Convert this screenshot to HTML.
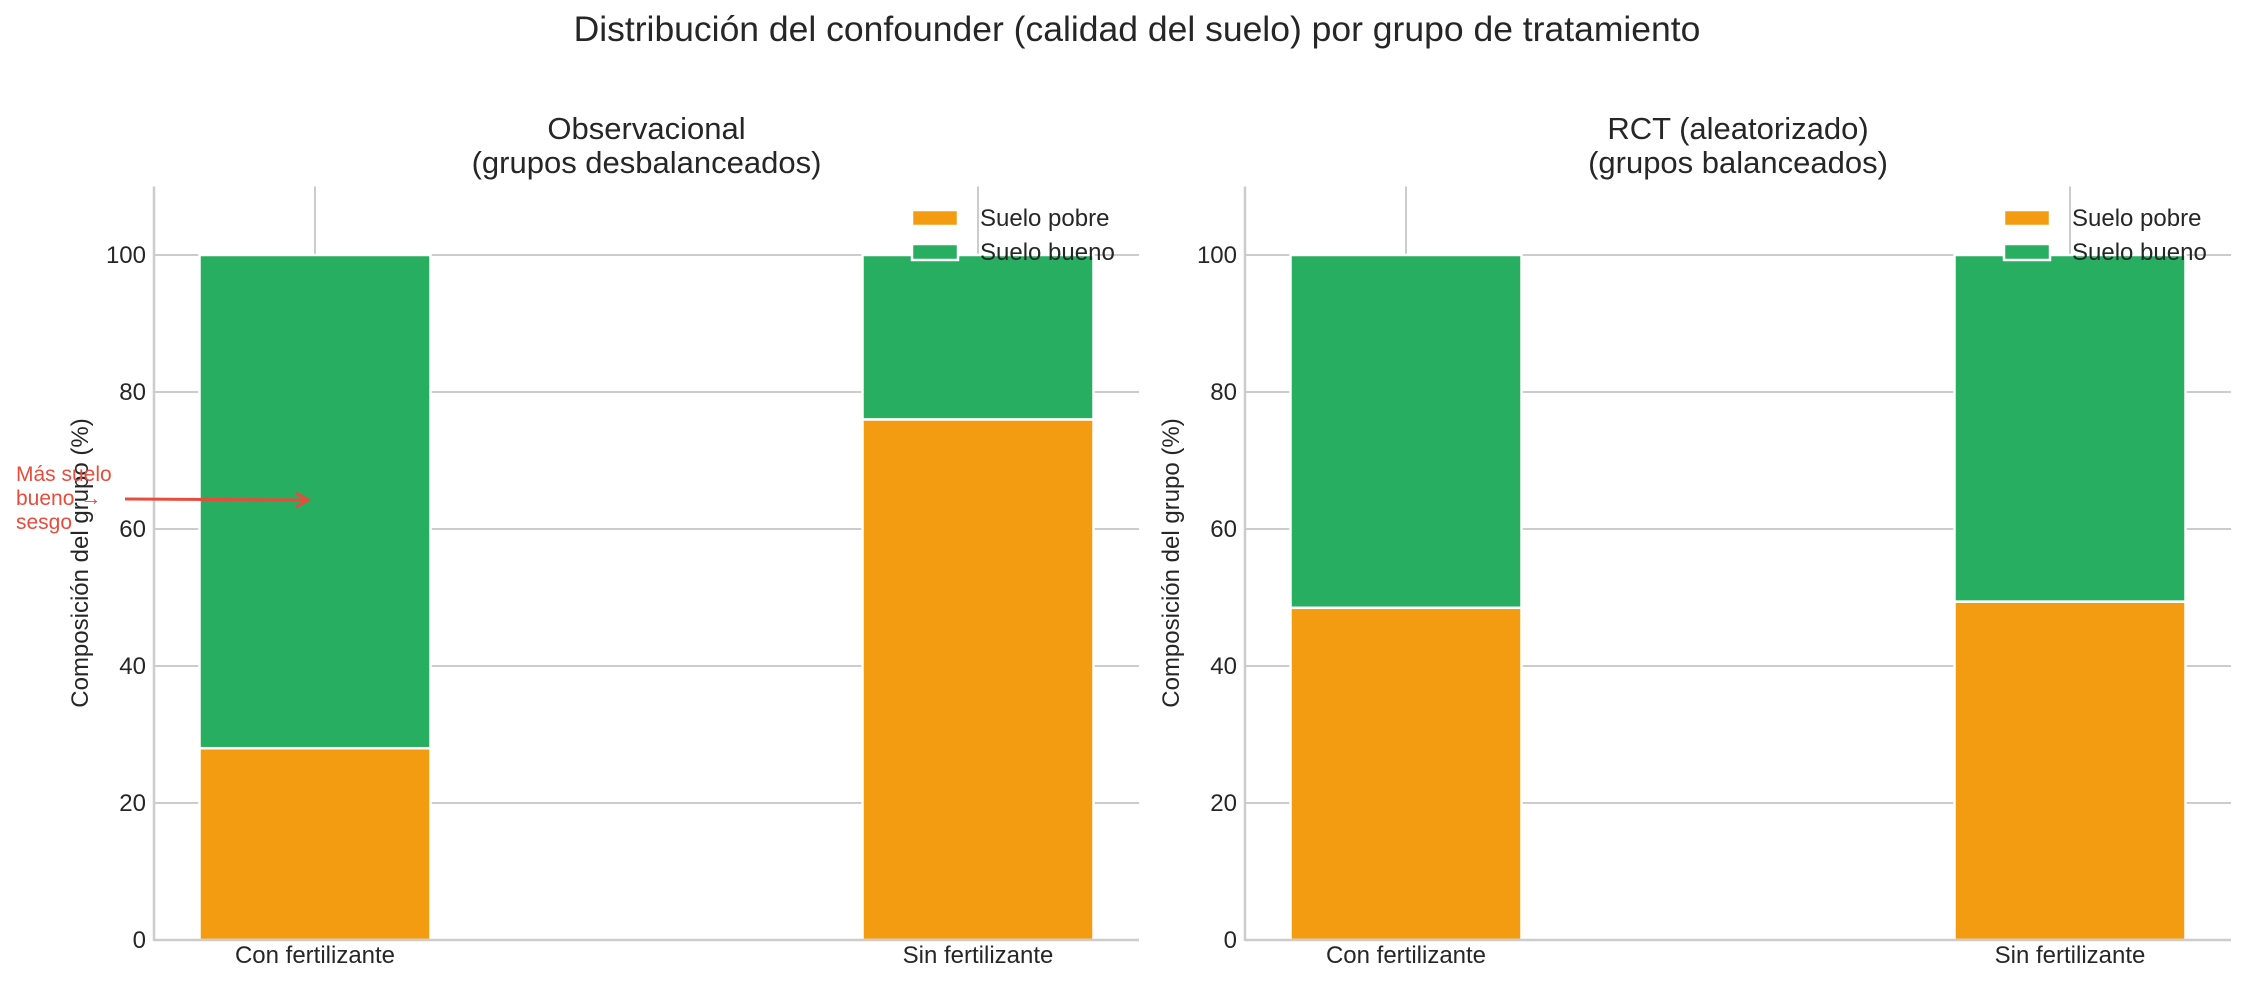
<!DOCTYPE html>
<html><head><meta charset="utf-8"><style>
html,body{margin:0;padding:0;background:#fff;}
svg{display:block;font-family:"Liberation Sans",sans-serif;}
</style></head><body>
<svg id="chart" width="2246" height="984" viewBox="0 0 2246 984" xmlns="http://www.w3.org/2000/svg">
<text x="1137" y="41" text-anchor="middle" font-size="35.5" fill="#262626">Distribución del confounder (calidad del suelo) por grupo de tratamiento</text>
<g id="panels"></g>
</svg>
<script>
const categories = ["Con fertilizante", "Sin fertilizante"];
const obsPobre = [28, 76];
const obsBueno = [72, 24];
const rctPobre = [48.5, 49.4];
const rctBueno = [51.5, 50.6];
const yTicks = [0, 20, 40, 60, 80, 100];
const seriesNames = ["Suelo pobre", "Suelo bueno"];

const NS = "http://www.w3.org/2000/svg";
const root = document.getElementById("panels");
function mk(tag, attrs, parent) {
  const e = document.createElementNS(NS, tag);
  for (const k in attrs) e.setAttribute(k, attrs[k]);
  (parent || root).appendChild(e);
  return e;
}
const COL_P = "#f39c12", COL_B = "#27ae60", GRID = "#cccccc", TXT = "#262626";
const yTop = 186.5, y0 = 940, yMaxV = 110;
function yScale(v) { return y0 - (v / yMaxV) * (y0 - yTop); }

function panel(left, right, step, title1, title2, pobre, bueno, key) {
  const g = mk("g", {});
  
  
  const xScale = i => left + 161 + i * step;
  const bw = 231;
  yTicks.forEach(t => {
    const l = mk("line", {x1: left, x2: right, y1: yScale(t), y2: yScale(t), stroke: GRID, "stroke-width": 2}, g);
    
    
    const tx = mk("text", {x: left - 8, y: yScale(t) + 8, "text-anchor": "end", "font-size": 24, fill: TXT}, g);
    tx.textContent = t;
    
    
  });
  categories.forEach((c, i) => {
    const vl = mk("line", {x1: xScale(i), x2: xScale(i), y1: yTop, y2: y0, stroke: GRID, "stroke-width": 2}, g);
    
    
  });
  categories.forEach((c, i) => {
    const x = xScale(i) - bw / 2;
    const r1 = mk("rect", {x: x, y: yScale(pobre[i]), width: bw, height: y0 - yScale(pobre[i]), fill: COL_P, stroke: "#fff", "stroke-width": 2.5}, g);
    
    
    const top = pobre[i] + bueno[i];
    const r2 = mk("rect", {x: x, y: yScale(top), width: bw, height: yScale(pobre[i]) - yScale(top), fill: COL_B, stroke: "#fff", "stroke-width": 2.5}, g);
    
    
    const tl = mk("text", {x: xScale(i), y: 963, "text-anchor": "middle", "font-size": 24, fill: TXT}, g);
    tl.textContent = c;
    
    
  });
  const ax1 = mk("line", {x1: left, x2: left, y1: yTop, y2: y0 + 1, stroke: GRID, "stroke-width": 2.5}, g);
  
  
  const ax2 = mk("line", {x1: left, x2: right, y1: y0, y2: y0, stroke: GRID, "stroke-width": 2.5}, g);
  
  
  const cx = (left + right) / 2;
  const t1 = mk("text", {x: cx, y: 139, "text-anchor": "middle", "font-size": 31, fill: TXT}, g);
  t1.textContent = title1;
  
  
  const t2 = mk("text", {x: cx, y: 173, "text-anchor": "middle", "font-size": 31, fill: TXT}, g);
  t2.textContent = title2;
  
  
  const yl = mk("text", {x: 0, y: 0, transform: "translate(" + (left - 66) + ",563) rotate(-90)", "text-anchor": "middle", "font-size": 24, fill: TXT}, g);
  yl.textContent = "Composición del grupo (%)";
  
  
  const lx = right - 227;
  [COL_P, COL_B].forEach((col, k) => {
    const lr = mk("rect", {x: lx, y: 210 + k * 34, width: 46, height: 16, fill: col, stroke: "#fff", "stroke-width": 2.5}, g);
    
    
    const lt = mk("text", {x: lx + 68, y: 226 + k * 34, "font-size": 24, fill: TXT}, g);
    lt.textContent = seriesNames[k];
    
    
  });
}
panel(154, 1139, 663, "Observacional", "(grupos desbalanceados)", obsPobre, obsBueno, "observational");
panel(1245, 2231, 664, "RCT (aleatorizado)", "(grupos balanceados)", rctPobre, rctBueno, "rct");

const ann = mk("g", {});


["Más suelo", "bueno →", "sesgo"].forEach((s, i) => {
  const t = mk("text", {x: 16, y: 481 + i * 24, "font-size": 21, fill: "#e74c3c"}, ann);
  t.textContent = s;
  
  
});
const ar = mk("line", {x1: 125, y1: 499, x2: 306, y2: 500, stroke: "#e74c3c", "stroke-width": 3}, ann);


const ah = mk("polyline", {points: "296,493 308,500 296,507", fill: "none", stroke: "#e74c3c", "stroke-width": 3}, ann);


</script>
</body></html>
